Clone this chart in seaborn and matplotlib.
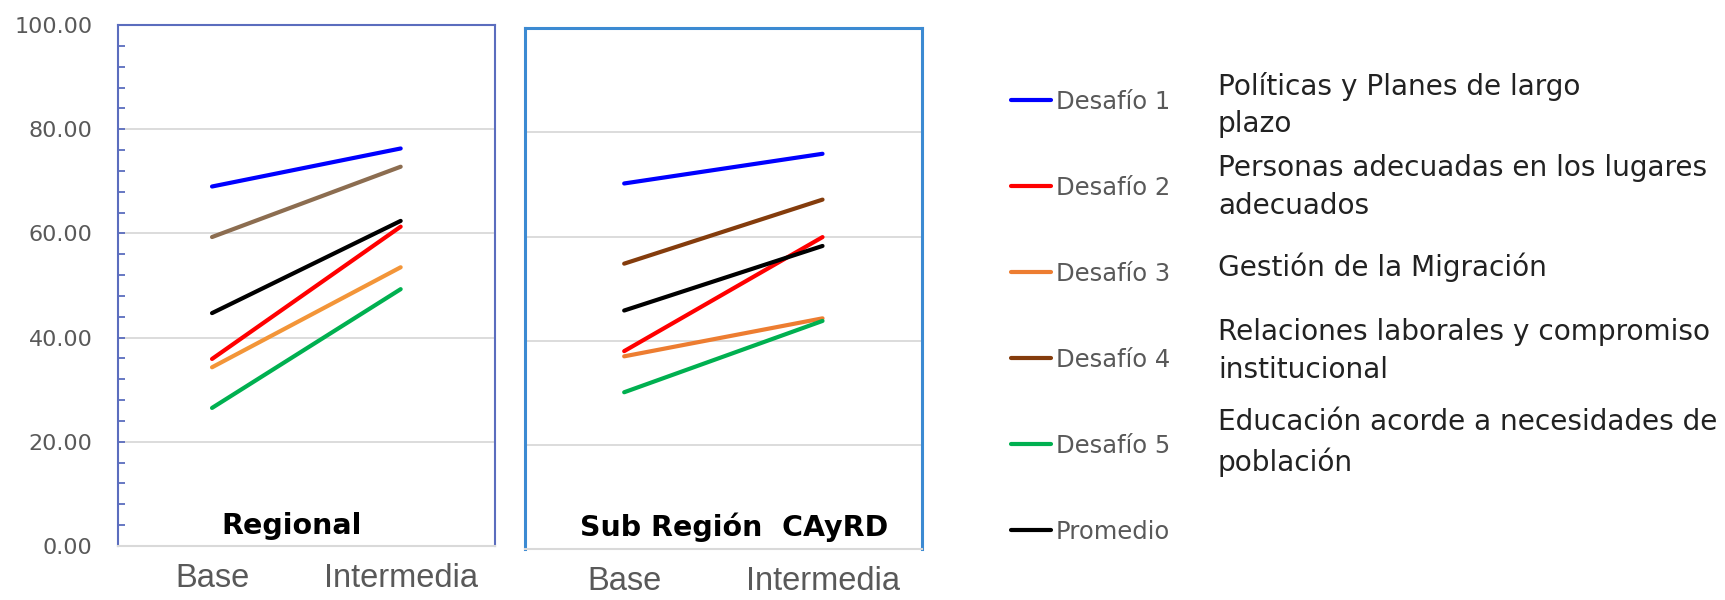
import matplotlib
matplotlib.use("Agg")
import matplotlib.pyplot as plt
import pandas as pd
import seaborn as sns
from matplotlib.ticker import MultipleLocator, FormatStrFormatter

# ---- data -------------------------------------------------------------
stages = ["Base", "Intermedia"]
series = ["Desafío 1", "Desafío 2", "Desafío 3", "Desafío 4", "Desafío 5", "Promedio"]

regional_base = [69.0, 35.9, 34.3, 59.3, 26.5, 44.7]
regional_intermedia = [76.3, 61.3, 53.5, 72.8, 49.3, 62.4]

subregion_base = [70.2, 38.0, 37.0, 54.8, 30.1, 45.8]
subregion_intermedia = [75.9, 59.9, 44.3, 67.1, 43.8, 58.2]

descriptions = [
    "Políticas y Planes de largo\nplazo",
    "Personas adecuadas en los lugares\nadecuados",
    "Gestión de la Migración",
    "Relaciones laborales y compromiso\ninstitucional",
    "Educación acorde a necesidades de\npoblación",
]

y_ticks = [0, 20, 40, 60, 80, 100]

regional_colors = ["#0000FF", "#FF0000", "#F39538", "#8C6D50", "#00B050", "#000000"]
subregion_colors = ["#0000FF", "#FF0000", "#ED7D31", "#843C0C", "#00B050", "#000000"]


def long_frame(base, inter):
    rows = []
    for name, b, i in zip(series, base, inter):
        rows.append({"Etapa": stages[0], "Serie": name, "Valor": b})
        rows.append({"Etapa": stages[1], "Serie": name, "Valor": i})
    return pd.DataFrame(rows)


regional_df = long_frame(regional_base, regional_intermedia)
subregion_df = long_frame(subregion_base, subregion_intermedia)

# ---- style ------------------------------------------------------------
sns.set_theme(style="white")
plt.rcParams["font.family"] = ["DejaVu Sans"]

W, H = 1725, 600
fig = plt.figure(figsize=(W / 100, H / 100), dpi=100)
fig.patch.set_facecolor("white")

GRID = "#D9D9D9"
TEXT_GRAY = "#595959"
LEFT_FRAME = "#5B6DBE"
RIGHT_FRAME = "#3C8AD2"


def px_axes(x0, x1, ytop, ybot):
    return fig.add_axes([x0 / W, (H - ybot) / H, (x1 - x0) / W, (ybot - ytop) / H])


ax_l = px_axes(117.7, 495.0, 25.0, 546.0)
ax_r = px_axes(525.0, 921.7, 28.3, 549.0)

panels = [
    (ax_l, regional_df, regional_colors, "Regional", LEFT_FRAME, 0.462, 0.038, 1.5),
    (ax_r, subregion_df, subregion_colors, "Sub Región  CAyRD", RIGHT_FRAME, 0.527, 0.042, 2.2),
]

for ax, df, colors, title, frame_color, title_x, title_y, frame_lw in panels:
    sns.lineplot(
        data=df, x="Etapa", y="Valor", hue="Serie", hue_order=series,
        palette=dict(zip(series, colors)), sort=False, estimator=None,
        linewidth=3.0, legend=False, ax=ax,
    )
    ax.set_xlim(-0.5, 1.5)
    ax.set_ylim(y_ticks[0], y_ticks[-1])
    ax.set_xlabel("")
    ax.set_ylabel("")
    ax.set_axisbelow(True)
    ax.yaxis.set_major_locator(MultipleLocator(20))
    ax.yaxis.grid(True, color=GRID, linewidth=1.3)
    ax.xaxis.grid(False)
    for side in ("left", "top", "right"):
        ax.spines[side].set_color(frame_color)
        ax.spines[side].set_linewidth(frame_lw)
    ax.spines["bottom"].set_color(GRID)
    ax.spines["bottom"].set_linewidth(1.5)
    ax.tick_params(axis="x", length=0, pad=12, labelsize=23.5, labelcolor=TEXT_GRAY)
    for lab in ax.get_xticklabels():
        lab.set_fontfamily("Liberation Sans")
    ax.text(title_x, title_y, title, transform=ax.transAxes, ha="center", va="center",
            fontsize=20.5, fontweight="bold", color="black")

# value axis only on the regional panel
ax_l.set_yticks(y_ticks)
ax_l.yaxis.set_minor_locator(MultipleLocator(4))
ax_l.yaxis.set_major_formatter(FormatStrFormatter("%.2f"))
ax_l.tick_params(axis="y", which="both", direction="in", left=True, color=LEFT_FRAME,
                 width=1.3, labelsize=16, labelcolor=TEXT_GRAY, pad=18)
ax_l.tick_params(axis="y", which="major", length=5)
ax_l.tick_params(axis="y", which="minor", length=5)

ax_r.tick_params(axis="y", left=False, labelleft=False)

# ---- legend and challenge descriptions --------------------------------
handles = ax_r.get_lines()[: len(series)]
fig.legend(
    handles, series, loc="upper left", bbox_to_anchor=(1011 / W, 1 - 90 / H),
    frameon=False, fontsize=17.5, labelcolor=TEXT_GRAY, handlelength=1.65,
    handletextpad=0.2, labelspacing=2.55, borderpad=0, borderaxespad=0,
)

desc_centers = [105, 187, 267, 351, 442.5]
for text, yc in zip(descriptions, desc_centers):
    fig.text(1218 / W, 1 - yc / H, text, ha="left", va="center", fontsize=20.2,
             color="#222222", linespacing=1.45)

fig.savefig("out.png", dpi=100, facecolor="white")
